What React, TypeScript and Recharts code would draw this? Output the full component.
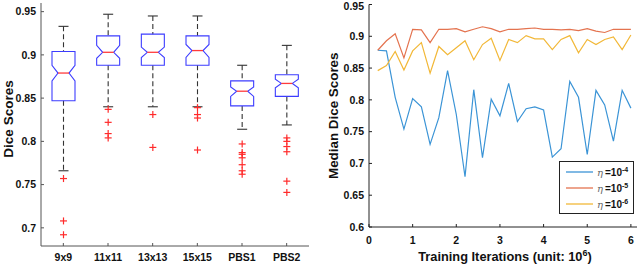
import React from 'react';
import { ComposedChart, Bar, XAxis, YAxis, LineChart, Line, Legend } from 'recharts';

const FONT = '"Liberation Sans", Arial, Helvetica, sans-serif';
const TEXT_COLOR = '#111';
const FRAME_LEFT = '#555';
const FRAME_RIGHT = '#222';
const BOX_COLOR = '#3c3cff';
const MED_COLOR = '#ff3b3b';
const OUT_COLOR = '#ff2a2a';
const WHISKER_COLOR = '#333';
const BLUE = '#3b94d6';
const ORANGE = '#e4734f';
const YELLOW = '#f2b838';

// ---------- Left chart: notched box plots ----------
const boxLabels = ['9x9', '11x11', '13x13', '15x15', 'PBS1', 'PBS2'];
const whiskerLow = [0.766, 0.840, 0.840, 0.840, 0.814, 0.819];
const quartile1 = [0.847, 0.888, 0.888, 0.888, 0.841, 0.852];
const medians = [0.879, 0.903, 0.903, 0.905, 0.858, 0.867];
const quartile3 = [0.904, 0.922, 0.924, 0.922, 0.870, 0.877];
const whiskerHigh = [0.933, 0.947, 0.945, 0.945, 0.888, 0.911];
const notchLow = [0.870, 0.896, 0.897, 0.897, 0.852, 0.862];
const notchHigh = [0.888, 0.911, 0.909, 0.912, 0.863, 0.872];
const outliers = [
  [0.757, 0.708, 0.692],
  [0.837, 0.822, 0.809, 0.804],
  [0.831, 0.793],
  [0.839, 0.831, 0.827, 0.790],
  [0.797, 0.787, 0.785, 0.781, 0.773, 0.766, 0.762],
  [0.804, 0.800, 0.794, 0.788, 0.754, 0.741],
];
const boxYTicks = [0.7, 0.75, 0.8, 0.85, 0.9, 0.95];
const boxYDomain = [0.679, 0.96];
const boxTopTicks = [0, 1, 2, 3, 4, 5];

// ---------- Right chart: median dice vs iterations ----------
const iterations = [0.2, 0.4, 0.6, 0.8, 1.0, 1.2, 1.4, 1.6, 1.8, 2.0, 2.2, 2.4, 2.6, 2.8, 3.0, 3.2, 3.4, 3.6, 3.8, 4.0, 4.2, 4.4, 4.6, 4.8, 5.0, 5.2, 5.4, 5.6, 5.8, 6.0];
const eta4 = [0.878, 0.877, 0.804, 0.754, 0.802, 0.789, 0.730, 0.772, 0.846, 0.777, 0.679, 0.816, 0.709, 0.801, 0.775, 0.826, 0.766, 0.786, 0.789, 0.784, 0.710, 0.723, 0.829, 0.804, 0.714, 0.815, 0.792, 0.735, 0.815, 0.787];
const eta5 = [0.878, 0.893, 0.904, 0.866, 0.911, 0.910, 0.890, 0.911, 0.911, 0.912, 0.907, 0.911, 0.915, 0.912, 0.907, 0.911, 0.911, 0.912, 0.913, 0.911, 0.911, 0.910, 0.911, 0.909, 0.912, 0.908, 0.906, 0.911, 0.911, 0.911];
const eta6 = [0.846, 0.854, 0.876, 0.847, 0.877, 0.890, 0.842, 0.884, 0.871, 0.882, 0.893, 0.863, 0.887, 0.897, 0.862, 0.895, 0.890, 0.901, 0.896, 0.896, 0.879, 0.895, 0.901, 0.874, 0.895, 0.887, 0.895, 0.899, 0.879, 0.902];
const lineXTicks = [0, 1, 2, 3, 4, 5, 6];
const lineYTicks = [0.6, 0.65, 0.7, 0.75, 0.8, 0.85, 0.9, 0.95];
const lineXDomain = [0, 6.14];
const lineYDomain = [0.6, 0.95];
const legendExponents = ['-4', '-5', '-6'];
const legendColors = [BLUE, ORANGE, YELLOW];

const boxData = boxLabels.map((name, i) => ({
  name,
  lo: whiskerLow[i],
  q1: quartile1[i],
  med: medians[i],
  q3: quartile3[i],
  hi: whiskerHigh[i],
  nLo: notchLow[i],
  nHi: notchHigh[i],
  out: outliers[i],
}));

const lineData = iterations.map((x, i) => ({ x, a: eta4[i], b: eta5[i], c: eta6[i] }));

const TICK_FONT = 10.5;

function makeTick(side: string, color: string, showLabel: boolean, labelOffset = 0) {
  return (p: any) => {
    const { x, y, payload } = p;
    const L = 3;
    let line: any = null;
    let text: any = null;
    const v = payload ? payload.value : '';
    const lab = String(v);
    if (side === 'bottom') {
      line = <line x1={x} x2={x} y1={y} y2={y - L} stroke={color} />;
      if (showLabel)
        text = (
          <text x={x} y={y + labelOffset} textAnchor="middle" fontFamily={FONT} fontWeight="bold" fontSize={TICK_FONT} fill={TEXT_COLOR}>
            {lab}
          </text>
        );
    } else if (side === 'top') {
      line = <line x1={x} x2={x} y1={y} y2={y + L} stroke={color} />;
    } else if (side === 'left') {
      line = <line x1={x} x2={x + L} y1={y} y2={y} stroke={color} />;
      if (showLabel)
        text = (
          <text x={x - 5} y={Math.max(y + 3.8, 10)} textAnchor="end" fontFamily={FONT} fontWeight="bold" fontSize={TICK_FONT} fill={TEXT_COLOR}>
            {lab}
          </text>
        );
    } else {
      line = <line x1={x} x2={x - L} y1={y} y2={y} stroke={color} />;
    }
    return (
      <g>
        {line}
        {text}
      </g>
    );
  };
}

const BoxShape = (props: any) => {
  const { x, y, width, height, payload } = props;
  if (!payload || x == null || y == null) return null;
  const top = Math.min(y, y + height);
  const bot = Math.max(y, y + height);
  const span = payload.hi - payload.lo;
  const py = (v: number) => top + ((payload.hi - v) / span) * (bot - top);
  const l = x;
  const r = x + width;
  const cx = x + width / 2;
  const inset = 6;
  const yq3 = py(payload.q3);
  const yq1 = py(payload.q1);
  const ym = py(payload.med);
  const yn1 = py(payload.nHi);
  const yn2 = py(payload.nLo);
  const pts = [
    [l, yq3], [r, yq3], [r, yn1], [r - inset, ym], [r, yn2], [r, yq1],
    [l, yq1], [l, yn2], [l + inset, ym], [l, yn1],
  ]
    .map((q) => q.join(','))
    .join(' ');
  return (
    <g>
      <line x1={cx} x2={cx} y1={top} y2={yq3} stroke={WHISKER_COLOR} strokeWidth={1.1} strokeDasharray="5 3" />
      <line x1={cx} x2={cx} y1={yq1} y2={bot} stroke={WHISKER_COLOR} strokeWidth={1.1} strokeDasharray="5 3" />
      <line x1={cx - 5} x2={cx + 5} y1={top} y2={top} stroke={WHISKER_COLOR} strokeWidth={1.1} />
      <line x1={cx - 5} x2={cx + 5} y1={bot} y2={bot} stroke={WHISKER_COLOR} strokeWidth={1.1} />
      <polygon points={pts} fill="none" stroke={BOX_COLOR} strokeWidth={1.1} />
      <line x1={l + inset} x2={r - inset} y1={ym} y2={ym} stroke={MED_COLOR} strokeWidth={1.3} />
      {payload.out.map((v: number, k: number) => {
        const oy = py(v);
        return (
          <g key={k}>
            <line x1={cx - 3.5} x2={cx + 3.5} y1={oy} y2={oy} stroke={OUT_COLOR} strokeWidth={1.2} />
            <line x1={cx} x2={cx} y1={oy - 3.5} y2={oy + 3.5} stroke={OUT_COLOR} strokeWidth={1.2} />
          </g>
        );
      })}
    </g>
  );
};

const LeftYTitle = (props: any) => {
  const vb = props.viewBox || { x: 0, y: 3, width: 41, height: 243 };
  const bx = vb.x + 12.5;
  const cy = vb.y + vb.height / 2 - 5.5;
  return (
    <text x={bx} y={cy} transform={`rotate(-90, ${bx}, ${cy})`} textAnchor="middle" fontFamily={FONT} fontWeight="bold" fontSize={13.5} fill={TEXT_COLOR}>
      Dice Scores
    </text>
  );
};

const RightYTitle = (props: any) => {
  const vb = props.viewBox || { x: 0, y: 4.5, width: 49, height: 222.5 };
  const bx = vb.x + 18;
  const cy = vb.y + vb.height / 2;
  return (
    <text x={bx} y={cy} transform={`rotate(-90, ${bx}, ${cy})`} textAnchor="middle" fontFamily={FONT} fontWeight="bold" fontSize={13.4} fill={TEXT_COLOR}>
      Median Dice Scores
    </text>
  );
};

const RightXTitle = (props: any) => {
  const vb = props.viewBox || { x: 49, y: 227, width: 268, height: 37 };
  const cx = vb.x + vb.width / 2 + 2;
  const yb = vb.y + 33.8;
  return (
    <text x={cx} y={yb} textAnchor="middle" fontFamily={FONT} fontWeight="bold" fontSize={12.8} fill={TEXT_COLOR}>
      Training Iterations (unit: 10
      <tspan fontSize={9} dy={-5}>6</tspan>
      <tspan dy={5}>)</tspan>
    </text>
  );
};

const LegendBox = () => (
  <svg width={75} height={53} style={{ display: 'block' }}>
    <rect x={0.5} y={0.5} width={74} height={52} fill="#fff" stroke="#222" strokeWidth={1} />
    {legendExponents.map((e, i) => {
      const yy = 11 + 16 * i;
      return (
        <g key={e}>
          <line x1={7} x2={34} y1={yy} y2={yy} stroke={legendColors[i]} strokeWidth={1.3} />
          <text x={38} y={yy + 3.5} fontSize={10} fill={TEXT_COLOR}>
            <tspan fontFamily="'DejaVu Serif', serif" fontStyle="italic" fill="#666">η</tspan>
            <tspan fontFamily={FONT} fontWeight="bold" dx={2}>=10</tspan>
            <tspan fontFamily={FONT} fontWeight="bold" fontSize={7} dy={-4}>{e}</tspan>
          </text>
        </g>
      );
    })}
  </svg>
);

export default function App() {
  return (
    <div style={{ position: 'absolute', left: 0, top: 0, width: 640, height: 264, background: '#fff', overflow: 'hidden' }}>
      <div style={{ position: 'absolute', left: 0, top: 0 }}>
        <ComposedChart width={320} height={264} data={boxData} margin={{ top: 3, right: 11, bottom: 0, left: 0 }}>
          <XAxis
            dataKey="name"
            height={18}
            interval={0}
            tickSize={0}
            tickMargin={0}
            tickLine={false}
            axisLine={{ stroke: FRAME_LEFT }}
            tick={makeTick('bottom', FRAME_LEFT, true, 15)}
          />
          <XAxis
            xAxisId="top"
            orientation="top"
            type="number"
            domain={[-0.5, 5.5]}
            allowDataOverflow
            ticks={boxTopTicks}
            height={0}
            interval={0}
            tickSize={0}
            tickMargin={0}
            tickLine={false}
            axisLine={{ stroke: FRAME_LEFT }}
            tick={makeTick('top', FRAME_LEFT, false)}
          />
          <YAxis
            type="number"
            domain={boxYDomain}
            allowDataOverflow
            ticks={boxYTicks}
            width={41}
            interval={0}
            tickSize={0}
            tickMargin={0}
            tickLine={false}
            axisLine={{ stroke: FRAME_LEFT }}
            tick={makeTick('left', FRAME_LEFT, true)}
            label={LeftYTitle}
          />
          <YAxis
            yAxisId="right"
            orientation="right"
            type="number"
            domain={boxYDomain}
            allowDataOverflow
            ticks={boxYTicks}
            width={0}
            interval={0}
            tickSize={0}
            tickMargin={0}
            tickLine={false}
            axisLine={{ stroke: FRAME_LEFT }}
            tick={makeTick('right', FRAME_LEFT, false)}
          />
          <Bar dataKey={(d: any) => [d.lo, d.hi]} barSize={23} shape={BoxShape} isAnimationActive={false} />
        </ComposedChart>
      </div>
      <div style={{ position: 'absolute', left: 320, top: 0 }}>
        <LineChart width={320} height={264} data={lineData} margin={{ top: 4.5, right: 3, bottom: 0, left: 0 }}>
          <XAxis
            dataKey="x"
            type="number"
            domain={lineXDomain}
            allowDataOverflow
            ticks={lineXTicks}
            height={37}
            interval={0}
            tickSize={0}
            tickMargin={0}
            tickLine={false}
            axisLine={{ stroke: FRAME_RIGHT }}
            tick={makeTick('bottom', FRAME_RIGHT, true, 16.5)}
            label={RightXTitle}
          />
          <XAxis
            xAxisId="top"
            orientation="top"
            type="number"
            domain={lineXDomain}
            allowDataOverflow
            ticks={lineXTicks}
            height={0}
            interval={0}
            tickSize={0}
            tickMargin={0}
            tickLine={false}
            axisLine={{ stroke: FRAME_RIGHT }}
            tick={makeTick('top', FRAME_RIGHT, false)}
          />
          <YAxis
            type="number"
            domain={lineYDomain}
            allowDataOverflow
            ticks={lineYTicks}
            width={49}
            interval={0}
            tickSize={0}
            tickMargin={0}
            tickLine={false}
            axisLine={{ stroke: FRAME_RIGHT }}
            tick={makeTick('left', FRAME_RIGHT, true)}
            label={RightYTitle}
          />
          <YAxis
            yAxisId="right"
            orientation="right"
            type="number"
            domain={lineYDomain}
            allowDataOverflow
            ticks={lineYTicks}
            width={0}
            interval={0}
            tickSize={0}
            tickMargin={0}
            tickLine={false}
            axisLine={{ stroke: FRAME_RIGHT }}
            tick={makeTick('right', FRAME_RIGHT, false)}
          />
          <Line dataKey="a" stroke={BLUE} strokeWidth={1.2} dot={false} isAnimationActive={false} />
          <Line dataKey="b" stroke={ORANGE} strokeWidth={1.2} dot={false} isAnimationActive={false} />
          <Line dataKey="c" stroke={YELLOW} strokeWidth={1.2} dot={false} isAnimationActive={false} />
          <Legend
            layout="horizontal"
            verticalAlign="middle"
            align="center"
            wrapperStyle={{ left: 239, top: 161, width: 75, height: 53 }}
            content={() => <LegendBox />}
          />
        </LineChart>
      </div>
    </div>
  );
}
